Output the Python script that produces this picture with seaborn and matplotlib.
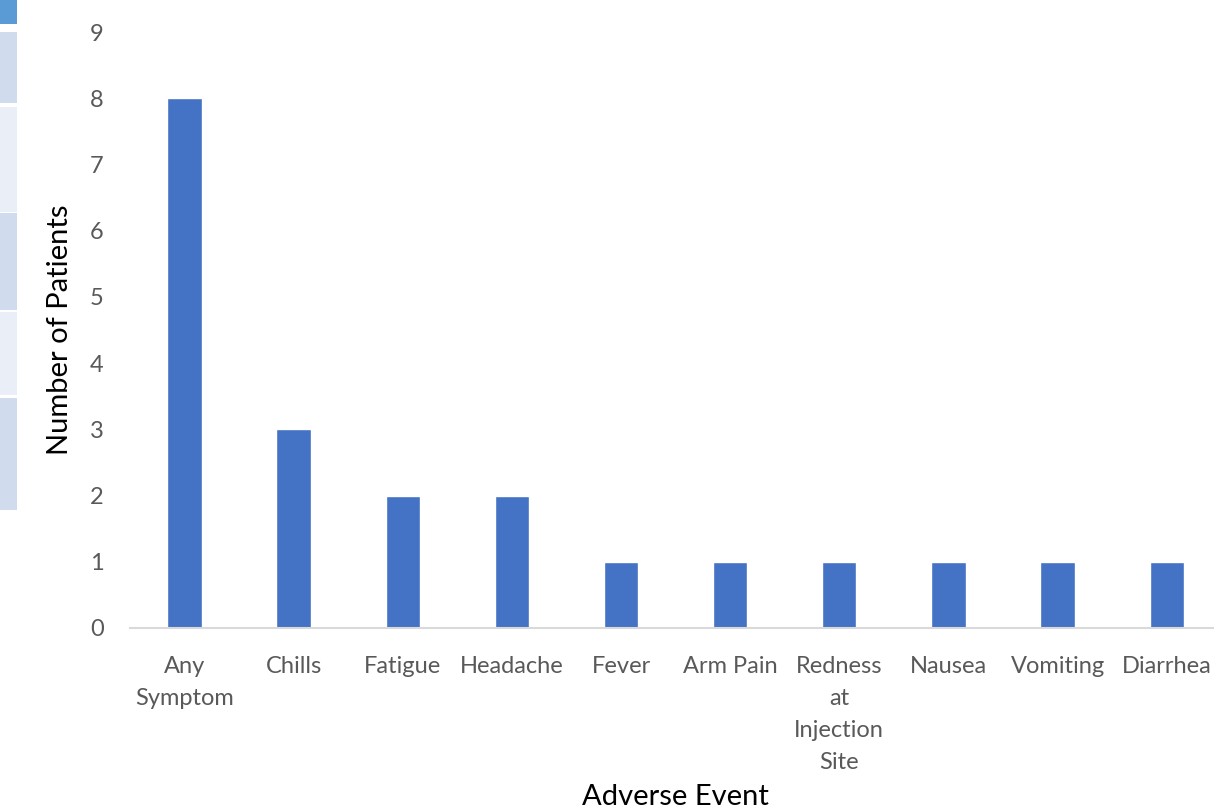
import matplotlib
matplotlib.use("Agg")
import matplotlib.pyplot as plt
from matplotlib.patches import Rectangle
import seaborn as sns
import pandas as pd

events = ["Any\nSymptom", "Chills", "Fatigue", "Headache", "Fever", "Arm Pain",
          "Redness\nat\nInjection\nSite", "Nausea", "Vomiting", "Diarrhea"]
patients = [8, 3, 2, 2, 1, 1, 1, 1, 1, 1]
y_ticks = [0, 1, 2, 3, 4, 5, 6, 7, 8, 9]

sns.set_theme(style="white")
plt.rcParams["font.family"] = ["Lato", "DejaVu Sans"]

df = pd.DataFrame({"event": events, "patients": patients})

fig = plt.figure(figsize=(12.14, 8.11), dpi=100)
ax = fig.add_axes([0.107, 0.2257, 0.899, 0.7348])

sns.barplot(data=df, x="event", y="patients", color="#4472C4", saturation=1,
            width=0.315, ax=ax)

ax.set_ylim(0, 9)
ax.set_yticks(y_ticks)
ax.set_xlim(-0.5, len(events) - 0.5)

for side in ["top", "right", "left"]:
    ax.spines[side].set_visible(False)
ax.spines["bottom"].set_color("#D9D9D9")
ax.spines["bottom"].set_linewidth(1.5)

ax.tick_params(axis="both", length=0, labelsize=17, colors="#595959")
ax.tick_params(axis="y", pad=19)
ax.tick_params(axis="x", pad=20)
ax.set_xticks(range(len(events)))
ax.set_xticklabels(events, linespacing=1.65)

ax.set_xlabel("Adverse Event", fontsize=21, color="black", labelpad=8)
ax.set_ylabel("Number of Patients", fontsize=21, color="black", labelpad=12)

# table-like strips along the left edge
strips = [(0, 24, "#5B9BD5"), (32, 103, "#D0DBEE"), (107, 212, "#E9EEF7"),
          (213, 310, "#D0DBEE"), (312, 395, "#E9EEF7"), (398, 510, "#D0DBEE")]
H = 811.0
for top, bot, col in strips:
    fig.patches.append(Rectangle((0, 1 - bot / H), 17 / 1214, (bot - top) / H,
                                 transform=fig.transFigure, color=col,
                                 zorder=0, linewidth=0))

fig.savefig("out.png", dpi=100)
